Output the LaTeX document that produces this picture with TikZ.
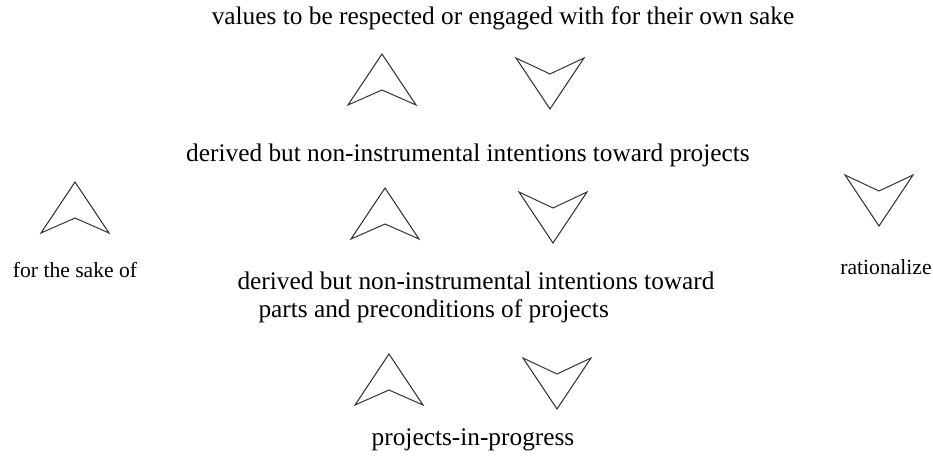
\documentclass[tikz,border=0pt]{standalone}
\usepackage{fontspec}
\setmainfont{Liberation Serif}
\tikzset{every picture/.style={line width=0.75pt}}
\tikzset{
  uphead/.pic={\draw [color=black!80] (0,0) -- (34,-51) -- (0,-36) -- (-34,-51) -- cycle ;},
  downhead/.pic={\draw [color=black!80] (-34,0) -- (0,-16) -- (34,0) -- (0,-51) -- cycle ;},
  bigtext/.style={inner sep=0pt, font=\fontsize{19}{21}\selectfont},
  smalltext/.style={inner sep=0pt, font=\fontsize{16.2}{18}\selectfont}
}

\begin{document}
\begin{tikzpicture}[x=0.75pt,y=0.75pt,yscale=-1,xscale=1]
    \useasboundingbox (0,0) rectangle (933,461);

    %Shape: Arrow heads, top row
    \pic at (382,54) {uphead};
    \pic at (550,58) {downhead};
    %Shape: Arrow heads, middle row
    \pic at (385,188) {uphead};
    \pic at (553,192) {downhead};
    %Shape: Arrow heads, bottom row
    \pic at (389,354) {uphead};
    \pic at (557,358) {downhead};
    %Shape: Arrow heads, sides
    \pic at (75,182) {uphead};
    \pic at (879,175) {downhead};

    % Text Node
    \node (values) [bigtext] at (503,18) {values to be respected or engaged with for their own sake};
    % Text Node
    \node (intents) [bigtext] at (468,155) {derived but non-instrumental intentions toward projects};
    % Text Node
    \node (parts) [bigtext, anchor=west, align=left] at (237,297) {derived but non-instrumental intentions toward\\\hspace*{15.75pt}parts and preconditions of projects};
    % Text Node
    \node (progress) [bigtext] at (473,440) {projects-in-progress};
    % Text Node
    \node (sake) [smalltext] at (75,270) {for the sake of};
    % Text Node
    \node (ratio) [smalltext] at (886,267) {rationalize};
\end{tikzpicture}
\end{document}
